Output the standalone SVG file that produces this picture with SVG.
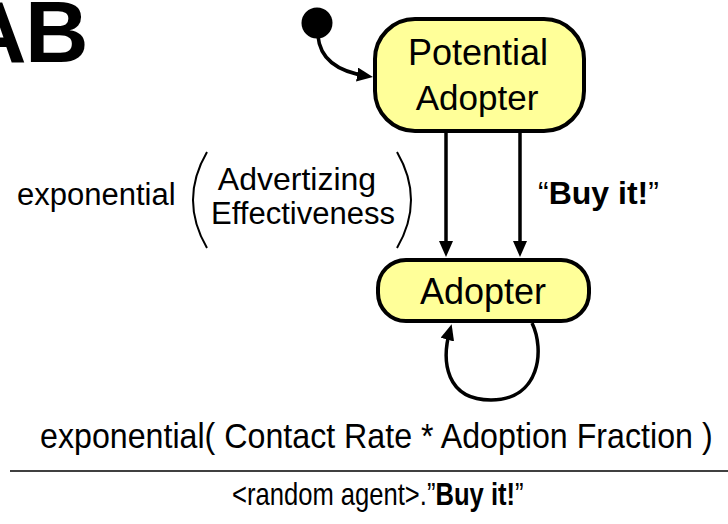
<svg xmlns="http://www.w3.org/2000/svg" width="728" height="524" viewBox="0 0 728 524">
  <style>
    .state { fill: #FFFF99; stroke: #000; stroke-width: 4; }
    .label { font-family: "Liberation Sans", Arial, sans-serif; fill: #000; }
    .edge { fill: none; stroke: #000; stroke-width: 3.5; }
    .paren { fill: none; stroke: #000; stroke-width: 2; }
  </style>
  <defs>
    <marker id="arrow" markerUnits="userSpaceOnUse" markerWidth="16" markerHeight="14" refX="10" refY="7" orient="auto">
      <path d="M0,0 L16,7 L0,14 z" fill="#000"/>
    </marker>
  </defs>
  <rect width="728" height="524" fill="#fff"/>

  <!-- title fragment, partly off the left and top edges -->
  <text class="label" y="62" font-size="88" font-weight="bold"><tspan x="-37">A</tspan><tspan x="25">B</tspan></text>

  <!-- connectors -->
  <g id="connectors">
    <path class="edge" d="M318,36 C320,60 340,72 367,76" marker-end="url(#arrow)"/>
    <line class="edge" x1="446" y1="132" x2="446" y2="251" marker-end="url(#arrow)"/>
    <line class="edge" x1="520" y1="132" x2="520" y2="251" marker-end="url(#arrow)"/>
    <path class="edge" d="M532,323 C545,350 540,400 491,400 C446,400 441,362 450,330" marker-end="url(#arrow)"/>
  </g>

  <!-- initial pseudo-state -->
  <g id="initial">
    <circle cx="317" cy="23" r="15.5" fill="#000"/>
  </g>

  <g id="potential-adopter">
    <rect class="state" x="375" y="19" width="209" height="112" rx="40" ry="40"/>
    <text class="label" x="478" y="65" font-size="36" text-anchor="middle">Potential</text>
    <text class="label" x="477" y="110" font-size="35" text-anchor="middle">Adopter</text>
  </g>

  <g id="adopter">
    <rect class="state" x="378" y="260" width="211" height="61" rx="28" ry="28"/>
    <text class="label" x="483" y="304" font-size="36" text-anchor="middle">Adopter</text>
  </g>

  <!-- transition labels -->
  <g id="advertizing-label">
    <text class="label" x="17" y="205" font-size="31">exponential</text>
    <path class="paren" d="M207,152 Q179,200 207,248"/>
    <path class="paren" d="M397,152 Q425,200 397,248"/>
    <text class="label" x="297" y="190" font-size="32" text-anchor="middle">Advertizing</text>
    <text class="label" x="303" y="224" font-size="31" text-anchor="middle">Effectiveness</text>
  </g>

  <g id="buy-label">
    <text class="label" x="538" y="204" font-size="32">“<tspan font-weight="bold">Buy it!</tspan>”</text>
  </g>

  <g id="contact-label">
    <text class="label" transform="translate(40,448) scale(0.92,1)" font-size="35">exponential( Contact Rate * Adoption Fraction )</text>
    <line x1="10" y1="471" x2="728" y2="471" stroke="#404040" stroke-width="2"/>
    <text class="label" transform="translate(232,505) scale(0.8,1)" font-size="32">&lt;random agent&gt;.”<tspan font-weight="bold">Buy it!</tspan>”</text>
  </g>
</svg>
